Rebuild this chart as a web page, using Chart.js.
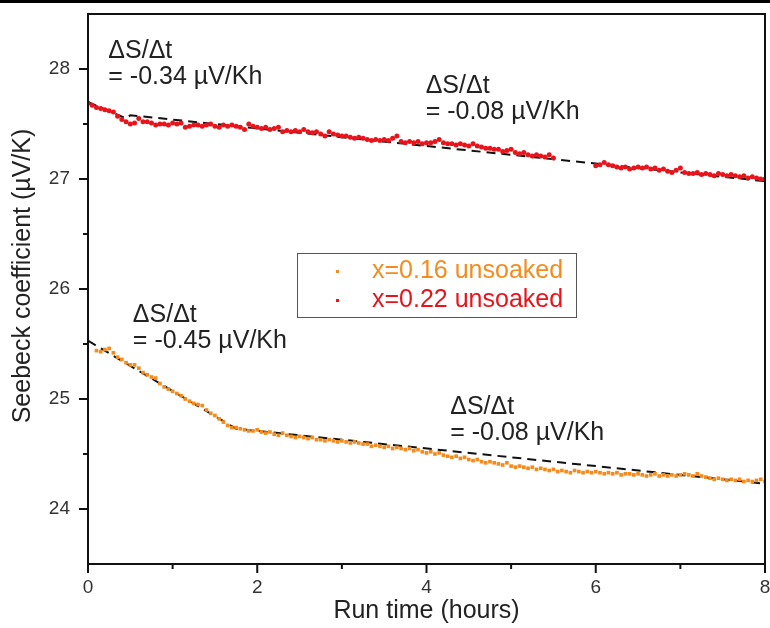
<!DOCTYPE html>
<html>
<head>
<meta charset="utf-8">
<script src="https://cdn.jsdelivr.net/npm/chart.js@4.4.1/dist/chart.umd.min.js"></script>
<style>
  html, body { margin: 0; padding: 0; background: #fff; }
  #wrap { position: relative; width: 770px; height: 628px; }
  #topbar { position: absolute; left: 0; top: 0; width: 770px; height: 3px; background: #000; z-index: 2; }
</style>
</head>
<body>
<div id="wrap">
  <div id="topbar"></div>
  <canvas id="seebeckChart" width="770" height="628"></canvas>
</div>
<script>
// ---- data ----
const hours = [
  0.00, 0.05, 0.10, 0.15, 0.20, 0.25, 0.30, 0.35, 0.40, 0.45,
  0.50, 0.55, 0.60, 0.65, 0.70, 0.75, 0.80, 0.85, 0.90, 0.95,
  1.00, 1.05, 1.10, 1.15, 1.20, 1.25, 1.30, 1.35, 1.40, 1.45,
  1.50, 1.55, 1.60, 1.65, 1.70, 1.75, 1.80, 1.85, 1.90, 1.95,
  2.00, 2.05, 2.10, 2.15, 2.20, 2.25, 2.30, 2.35, 2.40, 2.45,
  2.50, 2.55, 2.60, 2.65, 2.70, 2.75, 2.80, 2.85, 2.90, 2.95,
  3.00, 3.05, 3.10, 3.15, 3.20, 3.25, 3.30, 3.35, 3.40, 3.45,
  3.50, 3.55, 3.60, 3.65, 3.70, 3.75, 3.80, 3.85, 3.90, 3.95,
  4.00, 4.05, 4.10, 4.15, 4.20, 4.25, 4.30, 4.35, 4.40, 4.45,
  4.50, 4.55, 4.60, 4.65, 4.70, 4.75, 4.80, 4.85, 4.90, 4.95,
  5.00, 5.05, 5.10, 5.15, 5.20, 5.25, 5.30, 5.35, 5.40, 5.45,
  5.50, 5.55, 5.60, 5.65, 5.70, 5.75, 5.80, 5.85, 5.90, 5.95,
  6.00, 6.05, 6.10, 6.15, 6.20, 6.25, 6.30, 6.35, 6.40, 6.45,
  6.50, 6.55, 6.60, 6.65, 6.70, 6.75, 6.80, 6.85, 6.90, 6.95,
  7.00, 7.05, 7.10, 7.15, 7.20, 7.25, 7.30, 7.35, 7.40, 7.45,
  7.50, 7.55, 7.60, 7.65, 7.70, 7.75, 7.80, 7.85, 7.90, 7.95,
  8.00
];

// x=0.16 unsoaked (orange)
const seebeck016 = [
  null, null, 25.44, 25.43, 25.45, 25.46, 25.42, 25.38, 25.36, 25.33,
  25.31, 25.31, 25.28, 25.24, 25.22, 25.20, 25.19, 25.14, 25.11, 25.09,
  25.07, 25.05, 25.03, 25.00, 24.98, 24.96, 24.95, 24.94, 24.90, 24.87,
  24.85, 24.82, 24.79, 24.76, 24.74, 24.74, 24.73, 24.72, 24.71, 24.71,
  24.72, 24.70, 24.69, 24.70, 24.68, 24.67, 24.69, 24.67, 24.66, 24.65,
  24.66, 24.65, 24.64, 24.65, 24.63, 24.63, 24.62, 24.63, 24.62, 24.61,
  24.62, 24.61, 24.60, 24.61, 24.60, 24.59, 24.59, 24.57, 24.58, 24.57,
  24.56, 24.57, 24.55, 24.56, 24.55, 24.54, 24.55, 24.53, 24.54, 24.52,
  24.51, 24.52, 24.50, 24.51, 24.49, 24.48, 24.47, 24.48, 24.46, 24.47,
  24.45, 24.44, 24.45, 24.43, 24.42, 24.43, 24.42, 24.41, 24.40, 24.42,
  24.39, 24.38, 24.39, 24.38, 24.37, 24.38, 24.36, 24.37, 24.36, 24.35,
  24.36, 24.34, 24.35, 24.34, 24.33, 24.35, 24.34, 24.33, 24.34, 24.33,
  24.34, 24.33, 24.32, 24.33, 24.32, 24.33, 24.31, 24.32, 24.32, 24.31,
  24.32, 24.31, 24.30, 24.31, 24.32, 24.30, 24.31, 24.30, 24.31, 24.30,
  24.31, 24.32, 24.31, 24.30, 24.32, 24.30, 24.29, 24.28, 24.27, 24.28,
  24.27, 24.26, 24.27, 24.26, 24.27, 24.25, 24.26, 24.25, 24.26, 24.27,
  24.25
];

// x=0.22 unsoaked (red), gap in the record between ~5.5 h and 6 h
const seebeck022 = [
  27.69, 27.67, 27.65, 27.64, 27.63, 27.62, 27.61, 27.57, 27.54, 27.52,
  27.50, 27.51, 27.55, 27.52, 27.52, 27.51, 27.49, 27.50, 27.50, 27.49,
  27.51, 27.50, 27.51, 27.47, 27.48, 27.49, 27.49, 27.48, 27.49, 27.50,
  27.48, 27.47, 27.49, 27.48, 27.49, 27.48, 27.47, 27.45, 27.50, 27.48,
  27.47, 27.46, 27.47, 27.45, 27.46, 27.47, 27.43, 27.44, 27.43, 27.44,
  27.43, 27.45, 27.43, 27.42, 27.43, 27.41, 27.39, 27.43, 27.41, 27.40,
  27.39, 27.39, 27.38, 27.37, 27.38, 27.37, 27.36, 27.35, 27.36, 27.35,
  27.36, 27.35, 27.37, 27.39, 27.34, 27.33, 27.34, 27.33, 27.34, 27.32,
  27.33, 27.33, 27.34, 27.36, 27.33, 27.32, 27.32, 27.31, 27.32, 27.31,
  27.30, 27.32, 27.30, 27.29, 27.28, 27.28, 27.27, 27.27, 27.25, 27.26,
  27.27, 27.24, 27.23, 27.24, 27.22, 27.21, 27.22, 27.21, 27.20, 27.22,
  27.19, null, null, null, null, null, null, null, null, null,
  27.12, 27.13, 27.15, 27.13, 27.12, 27.11, 27.10, 27.11, 27.09, 27.10,
  27.11, 27.10, 27.11, 27.09, 27.10, 27.08, 27.09, 27.07, 27.06, 27.08,
  27.10, 27.06, 27.05, 27.05, 27.06, 27.04, 27.05, 27.04, 27.03, 27.05,
  27.04, 27.03, 27.04, 27.03, 27.02, 27.03, 27.01, 27.02, 27.01, 27.00,
  27.00
];

// dashed linear fits
const fit016Hours = [0, 1.75, 8];
const fit016Values = [25.53, 24.73, 24.23];
const fit022Hours = [0, 0.45, 0.5, 8];
const fit022Values = [27.70, 27.55, 27.58, 26.98];

// axis ticks
const xTicks = [0, 2, 4, 6, 8];
const xMinorTicks = [1, 3, 5, 7];
const yTicks = [24, 25, 26, 27, 28];
const yMinorTicks = [24.5, 25.5, 26.5, 27.5];

// slope annotations (x, y of first line, second line text)
const noteX = [0.24, 3.99, 0.53, 4.28];
const noteY = [28.16, 27.84, 25.76, 24.93];
const noteText = ['= -0.34 µV/Kh', '= -0.08 µV/Kh', '= -0.45 µV/Kh', '= -0.08 µV/Kh'];

const seriesLabels = ['x=0.16 unsoaked', 'x=0.22 unsoaked'];
const ORANGE = '#f28c1e';
const RED = '#e8141c';
const FONT = '"Liberation Sans", Arial, sans-serif';

function toPoints(xs, ys) {
  const pts = [];
  xs.forEach((x, i) => { if (ys[i] !== null) pts.push({ x: x, y: ys[i] }); });
  return pts;
}

// ============================
// frame, tick marks, titles, notes, legend
// ============================
const decorations = {
  id: 'decorations',
  afterDraw(chart) {
    const { ctx, chartArea: a, scales: { x, y } } = chart;
    ctx.save();
    ctx.strokeStyle = '#111';
    ctx.lineWidth = 2;
    ctx.strokeRect(a.left, a.top, a.right - a.left, a.bottom - a.top);

    ctx.beginPath();
    xTicks.forEach(v => { const p = x.getPixelForValue(v); ctx.moveTo(p, a.bottom); ctx.lineTo(p, a.bottom + 9); });
    xMinorTicks.forEach(v => { const p = x.getPixelForValue(v); ctx.moveTo(p, a.bottom); ctx.lineTo(p, a.bottom + 5); });
    yTicks.forEach(v => { const p = y.getPixelForValue(v); ctx.moveTo(a.left, p); ctx.lineTo(a.left - 9, p); });
    yMinorTicks.forEach(v => { const p = y.getPixelForValue(v); ctx.moveTo(a.left, p); ctx.lineTo(a.left - 5, p); });
    ctx.stroke();

    // axis titles
    ctx.fillStyle = '#222';
    ctx.font = '25px ' + FONT;
    ctx.textAlign = 'center';
    ctx.textBaseline = 'middle';
    ctx.fillText('Run time (hours)', (a.left + a.right) / 2, 611);
    ctx.save();
    ctx.translate(23, (a.top + a.bottom) / 2 - 13);
    ctx.rotate(-Math.PI / 2);
    ctx.fillText('Seebeck coefficient (µV/K)', 0, 0);
    ctx.restore();

    // slope notes
    ctx.textAlign = 'left';
    ctx.font = '25px ' + FONT;
    noteX.forEach((nx, i) => {
      const px = x.getPixelForValue(nx);
      const py = y.getPixelForValue(noteY[i]);
      ctx.fillText('ΔS/Δt', px, py);
      ctx.fillText(noteText[i], px, py + 26);
    });

    // legend box
    const lx = a.left + 209, ly = a.top + 239;
    ctx.strokeStyle = '#555';
    ctx.lineWidth = 1;
    ctx.strokeRect(lx + 0.5, ly + 0.5, 279, 64);
    const colors = [ORANGE, RED];
    seriesLabels.forEach((lab, i) => {
      const cy = ly + 18 + i * 29;
      ctx.fillStyle = colors[i];
      ctx.fillRect(lx + 39, cy - 1, 3, 3);
      ctx.font = '25px ' + FONT;
      ctx.fillText(lab, lx + 75, cy);
    });
    ctx.restore();
  }
};

new Chart(document.getElementById('seebeckChart'), {
  type: 'scatter',
  data: {
    datasets: [
      {
        label: seriesLabels[0],
        data: toPoints(hours, seebeck016),
        pointStyle: 'rect',
        pointRadius: 2.6,
        backgroundColor: ORANGE,
        borderColor: ORANGE,
        borderWidth: 0,
        order: 1
      },
      {
        label: seriesLabels[1],
        data: toPoints(hours, seebeck022),
        pointStyle: 'circle',
        pointRadius: 2.5,
        backgroundColor: RED,
        borderColor: RED,
        borderWidth: 0,
        order: 1
      },
      {
        label: 'fit 0.16',
        data: toPoints(fit016Hours, fit016Values),
        showLine: true,
        pointRadius: 0,
        borderColor: '#111',
        borderWidth: 2,
        borderDash: [9, 6],
        order: 2
      },
      {
        label: 'fit 0.22',
        data: toPoints(fit022Hours, fit022Values),
        showLine: true,
        pointRadius: 0,
        borderColor: '#111',
        borderWidth: 2,
        borderDash: [9, 6],
        order: 2
      }
    ]
  },
  options: {
    responsive: false,
    animation: false,
    layout: { padding: { top: 14, right: 5, left: 0, bottom: 0 } },
    plugins: { legend: { display: false }, tooltip: { enabled: false } },
    scales: {
      x: {
        type: 'linear',
        min: 0,
        max: 8,
        afterBuildTicks: (s) => { s.ticks = xTicks.map(v => ({ value: v })); },
        afterFit: (s) => { s.height = 64; s.paddingLeft = 0; s.paddingRight = 0; },
        grid: { display: false, drawTicks: false },
        border: { display: false },
        ticks: { color: '#333', font: { family: FONT, size: 19 }, padding: 12, maxRotation: 0 }
      },
      y: {
        type: 'linear',
        min: 23.5,
        max: 28.5,
        afterBuildTicks: (s) => { s.ticks = yTicks.map(v => ({ value: v })); },
        afterFit: (s) => { s.width = 88; s.paddingTop = 0; s.paddingBottom = 0; },
        grid: { display: false, drawTicks: false },
        border: { display: false },
        ticks: { color: '#333', font: { family: FONT, size: 19 }, padding: 18 }
      }
    }
  },
  plugins: [decorations]
});
</script>
</body>
</html>
